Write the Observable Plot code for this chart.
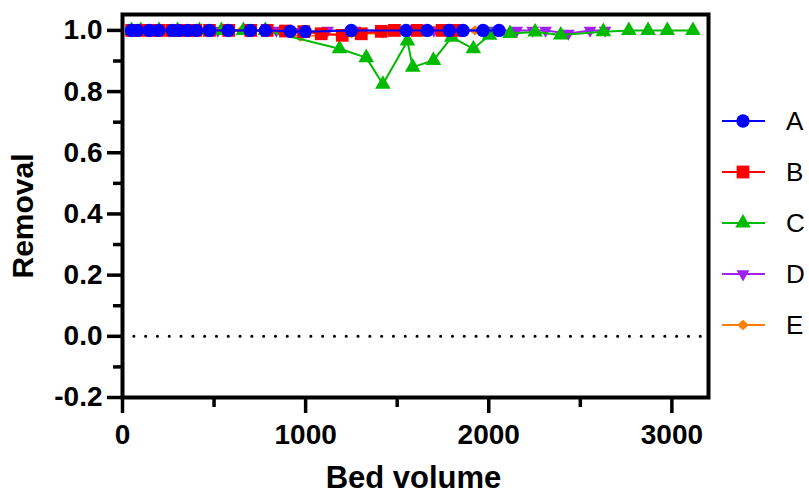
<!DOCTYPE html>
<html>
<head>
<meta charset="utf-8">
<script src="https://cdn.jsdelivr.net/npm/d3@7"></script>
<script src="https://cdn.jsdelivr.net/npm/@observablehq/plot@0.6"></script>
<style>
  html, body { margin: 0; padding: 0; background: #fff; }
  #wrap { position: relative; width: 809px; height: 493px; font-family: "Liberation Sans", Arial, sans-serif; }
  #legend { position: absolute; left: 0; top: 0; }
</style>
</head>
<body>
<div id="wrap"></div>
<script>
// ---- data ----
const seriesNames = ["A", "B", "C", "D", "E"];
const seriesColors = ["#0000FF", "#FF0000", "#00BB00", "#A020F0", "#FF8000"];

const bedA = [49, 82, 147, 196, 273, 305, 355, 404, 475, 578, 698, 780, 916, 998, 1249, 1549, 1664, 1784, 1860, 1969, 2056];
const remA = [1, 1, 1, 1, 1, 1, 1, 1, 1, 1, 1, 1, 0.997, 0.996, 1, 1, 1, 1, 1, 1, 1];

const bedB = [50, 82, 150, 200, 270, 305, 350, 400, 475, 580, 700, 790, 890, 990, 1085, 1200, 1304, 1413, 1485, 1609, 1745, 1827];
const remB = [1, 1, 1, 1, 1, 1, 1, 1, 1, 1, 1, 1, 0.998, 0.996, 0.989, 0.984, 0.989, 0.997, 1, 1, 1, 1];

const bedC = [50, 100, 200, 300, 420, 540, 660, 780, 1185, 1331, 1422, 1556, 1585, 1698, 1798, 1916, 2004, 2116, 2253, 2393, 2626, 2765, 2870, 2975, 3115];
const remC = [1, 1, 1, 1, 1, 1, 1, 1, 0.94, 0.911, 0.824, 0.965, 0.88, 0.902, 0.978, 0.94, 0.984, 0.99, 0.995, 0.985, 0.996, 1, 1, 1, 1];

const bedD = [50, 150, 250, 380, 520, 680, 840, 970, 1120, 1270, 1420, 1560, 1700, 1850, 2000, 2153, 2240, 2310, 2435, 2553, 2635];
const remD = [1, 1, 1, 1, 1, 1, 1, 0.995, 1, 1, 1, 1, 1, 1, 1, 1, 1, 1, 0.99, 1, 1];

const bedE = [50, 150, 250, 350, 500, 650, 800, 970, 1100, 1250, 1420, 1560, 1700, 1925];
const remE = [1, 1, 1, 1, 1, 1, 1, 0.98, 0.985, 0.99, 0.99, 1, 1, 1];

const yTicks = [-0.2, 0, 0.2, 0.4, 0.6, 0.8, 1.0];
const yMinor = [-0.1, 0.1, 0.3, 0.5, 0.7, 0.9];
const xTicks = [0, 1000, 2000, 3000];
const xMinor = [500, 1500, 2500];

// ---- symbols ----
const triDown = {
  draw(ctx, size) {
    const s = Math.sqrt(size / 0.6);
    const h = s * Math.sqrt(3) / 2;
    ctx.moveTo(-s / 2, -h / 3);
    ctx.lineTo(s / 2, -h / 3);
    ctx.lineTo(0, 2 * h / 3);
    ctx.closePath();
  }
};
const diamondSym = {
  draw(ctx, size) {
    const r = Math.sqrt(size) * 0.62;
    ctx.moveTo(0, -r * 0.85);
    ctx.lineTo(r, 0);
    ctx.lineTo(0, r * 0.85);
    ctx.lineTo(-r, 0);
    ctx.closePath();
  }
};
const seriesSymbols = ["circle", "square", "triangle", triDown, diamondSym];
const seriesR = [6.7, 7.2, 5.8, 5.6, 5.5];

const bedList = [bedA, bedB, bedC, bedD, bedE];
const remList = [remA, remB, remC, remD, remE];
const tables = seriesNames.map((s, i) => bedList[i].map((b, j) => ({series: s, bed: b, removal: remList[i][j]})));

// drawing order: E, D, C, B, A (A on top)
const order = [4, 3, 2, 1, 0];
const seriesMarks = order.flatMap(i => [
  Plot.line(tables[i], {x: "bed", y: "removal", stroke: seriesColors[i], strokeWidth: 2}),
  Plot.dot(tables[i], {x: "bed", y: "removal", fill: seriesColors[i], stroke: "none", symbol: seriesSymbols[i], r: seriesR[i]})
]);

const fmtY = d => d3.format(".1f")(d).replace("\u2212", "-");

const chart = Plot.plot({
  width: 809,
  height: 493,
  marginLeft: 122,
  marginRight: 101,
  marginTop: 14,
  marginBottom: 96,
  style: {fontFamily: "'Liberation Sans', Arial, sans-serif", fontWeight: "bold", fontSize: "28px", color: "#000", background: "#fff", overflow: "visible"},
  x: {domain: [0, 3200]},
  y: {domain: [-0.2, 1.052]},
  marks: [
    Plot.ruleY([0], {stroke: "#000", strokeWidth: 3, strokeLinecap: "round", strokeDasharray: "0.1,11.7"}),
    ...seriesMarks,
    Plot.axisY(yMinor, {tickSize: 9, strokeWidth: 3.5, text: null, label: null}),
    Plot.axisY(yTicks, {tickSize: 15, tickPadding: 5, strokeWidth: 3.5, tickFormat: fmtY, label: null, fontSize: 28, fontWeight: "bold"}),
    Plot.axisX(xMinor, {tickSize: 10, strokeWidth: 3.5, text: null, label: null}),
    Plot.axisX(xTicks, {tickSize: 16, tickPadding: 11, strokeWidth: 3.5, tickFormat: d => String(d), label: null, fontSize: 28, fontWeight: "bold"}),
    Plot.frame({stroke: "#000", strokeWidth: 4}),
    Plot.text(["Removal"], {frameAnchor: "left", textAnchor: "middle", rotate: -90, dx: -99, dy: 10, fontSize: 30, fontWeight: "bold"}),
    Plot.text(["Bed volume"], {frameAnchor: "bottom", dy: 90, dx: -2, fontSize: 31, fontWeight: "bold"})
  ]
});

const wrap = document.getElementById("wrap");
wrap.appendChild(chart);

// ---- legend ----
const ns = "http://www.w3.org/2000/svg";
const leg = document.createElementNS(ns, "svg");
leg.setAttribute("id", "legend");
leg.setAttribute("width", 809);
leg.setAttribute("height", 493);
leg.style.pointerEvents = "none";
seriesNames.forEach((name, i) => {
  const cy = 121 + i * 51;
  const line = document.createElementNS(ns, "line");
  line.setAttribute("x1", 722); line.setAttribute("x2", 765);
  line.setAttribute("y1", cy); line.setAttribute("y2", cy);
  line.setAttribute("stroke", seriesColors[i]); line.setAttribute("stroke-width", 2);
  leg.appendChild(line);
  const sym = seriesSymbols[i];
  const symObj = typeof sym === "string" ? {circle: d3.symbolCircle, square: d3.symbolSquare, triangle: d3.symbolTriangle}[sym] : sym;
  const path = document.createElementNS(ns, "path");
  path.setAttribute("d", d3.symbol(symObj, Math.PI * seriesR[i] * seriesR[i])());
  path.setAttribute("transform", `translate(743,${cy})`);
  path.setAttribute("fill", seriesColors[i]);
  leg.appendChild(path);
  const t = document.createElementNS(ns, "text");
  t.setAttribute("x", 786); t.setAttribute("y", cy);
  t.setAttribute("dy", "0.36em");
  t.setAttribute("font-size", 26);
  t.setAttribute("font-family", "'Liberation Sans', Arial, sans-serif");
  t.textContent = name;
  leg.appendChild(t);
});
wrap.appendChild(leg);
</script>
</body>
</html>
